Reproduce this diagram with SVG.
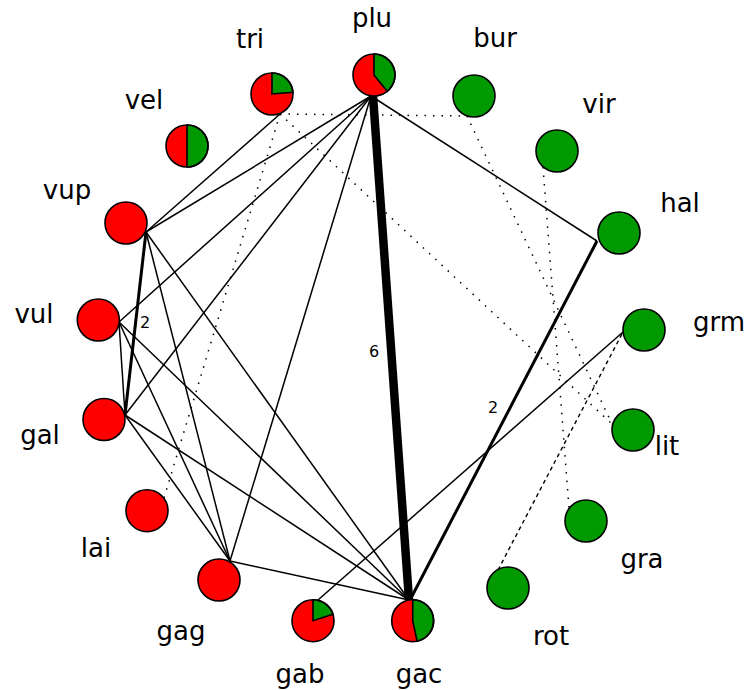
<svg xmlns="http://www.w3.org/2000/svg" width="749" height="690" viewBox="0 0 749 690">
<style>
.e{stroke:#000;stroke-width:1.5;fill:none}
.dot{stroke:#000;stroke-width:1.5;fill:none;stroke-dasharray:1.5 7}
.dash{stroke:#000;stroke-width:1.4;fill:none;stroke-dasharray:4 3.5}
.n{stroke:#000;stroke-width:1.6}
.r{fill:#ff0000}
.g{fill:#009900}
.lbl{font-family:"DejaVu Sans",sans-serif;font-size:26px;text-anchor:middle;fill:#000}
.el{font-family:"DejaVu Sans",sans-serif;font-size:16px;text-anchor:middle;fill:#000}
</style>
<rect width="749" height="690" fill="#fff"/>
<g id="edges">
<line class="e" x1="371" y1="96" x2="597" y2="241"/>
<line class="e" x1="371" y1="96" x2="146" y2="232"/>
<line class="e" x1="371" y1="96" x2="119" y2="322"/>
<line class="e" x1="371" y1="96" x2="125" y2="415"/>
<line class="e" x1="371" y1="96" x2="230" y2="561"/>
<line class="e" x1="280" y1="114" x2="146" y2="232"/>
<line class="e" x1="146" y1="232" x2="230" y2="561"/>
<line class="e" x1="146" y1="232" x2="409" y2="600"/>
<line class="e" x1="119" y1="322" x2="125" y2="415"/>
<line class="e" x1="119" y1="322" x2="230" y2="561"/>
<line class="e" x1="119" y1="322" x2="409" y2="600"/>
<line class="e" x1="125" y1="415" x2="230" y2="561"/>
<line class="e" x1="125" y1="415" x2="409" y2="600"/>
<line class="e" x1="230" y1="561" x2="409" y2="600"/>
<line class="e" x1="318" y1="600" x2="623" y2="332"/>
<line stroke="#000" stroke-width="8.5" x1="373" y1="96" x2="409" y2="600"/>
<line stroke="#000" stroke-width="3" x1="597" y1="241" x2="410" y2="600"/>
<line stroke="#000" stroke-width="3" x1="146" y1="232" x2="125" y2="415"/>
<line class="dash" x1="498" y1="570" x2="623" y2="332"/>
<line class="dot" x1="280" y1="114" x2="467" y2="116"/>
<line class="dot" x1="280" y1="114" x2="612" y2="424"/>
<line class="dot" x1="280" y1="114" x2="164" y2="498"/>
<line class="dot" x1="467" y1="116" x2="612" y2="424"/>
<line class="dot" x1="543" y1="167" x2="569" y2="508"/>
<text class="el" x="374" y="357">6</text>
<text class="el" x="493" y="413">2</text>
<text class="el" x="145" y="328">2</text>
</g>
<g id="plu"><circle class="r" cx="374" cy="75" r="21"/><path class="g n" d="M374,75 L374,54 A21,21 0 0,1 387.2,91.3 Z"/><circle class="n" cx="374" cy="75" r="21" fill="none"/><text class="lbl" x="372" y="27">plu</text></g>
<g id="bur"><circle class="g n" cx="474" cy="96" r="21"/><text class="lbl" x="495" y="47">bur</text></g>
<g id="vir"><circle class="g n" cx="557" cy="151" r="21"/><text class="lbl" x="599" y="113">vir</text></g>
<g id="hal"><circle class="g n" cx="619" cy="233" r="21"/><text class="lbl" x="680" y="212">hal</text></g>
<g id="grm"><circle class="g n" cx="644" cy="330" r="21"/><text class="lbl" x="719" y="331">grm</text></g>
<g id="lit"><circle class="g n" cx="633" cy="430" r="21"/><text class="lbl" x="667" y="455">lit</text></g>
<g id="gra"><circle class="g n" cx="586" cy="521" r="21"/><text class="lbl" x="642" y="568">gra</text></g>
<g id="rot"><circle class="g n" cx="508" cy="588" r="21"/><text class="lbl" x="551" y="645">rot</text></g>
<g id="gac"><circle class="r" cx="412.7" cy="620.7" r="21"/><path class="g n" d="M412.7,620.7 L412.7,599.7 A21,21 0 0,1 417.1,641.2 Z"/><circle class="n" cx="412.7" cy="620.7" r="21" fill="none"/><text class="lbl" x="419" y="683">gac</text></g>
<g id="gab"><circle class="r" cx="313" cy="620.7" r="21"/><path class="g n" d="M313,620.7 L313,599.7 A21,21 0 0,1 333,614.2 Z"/><circle class="n" cx="313" cy="620.7" r="21" fill="none"/><text class="lbl" x="300" y="683">gab</text></g>
<g id="gag"><circle class="r n" cx="219" cy="580" r="21"/><text class="lbl" x="181" y="640">gag</text></g>
<g id="lai"><circle class="r n" cx="147" cy="510.7" r="21"/><text class="lbl" x="96" y="557">lai</text></g>
<g id="gal"><circle class="r n" cx="104" cy="419.5" r="21"/><text class="lbl" x="40" y="444">gal</text></g>
<g id="vul"><circle class="r n" cx="98.3" cy="320" r="21"/><text class="lbl" x="34" y="323">vul</text></g>
<g id="vup"><circle class="r n" cx="126" cy="223" r="21"/><text class="lbl" x="67" y="199">vup</text></g>
<g id="vel"><circle class="r" cx="187" cy="146" r="21"/><path class="g n" d="M187,125 A21,21 0 0,1 187,167 Z"/><circle class="n" cx="187" cy="146" r="21" fill="none"/><text class="lbl" x="144" y="109">vel</text></g>
<g id="tri"><circle class="r" cx="272" cy="94" r="21"/><path class="g n" d="M272,94 L272,73 A21,21 0 0,1 292.9,92.2 Z"/><circle class="n" cx="272" cy="94" r="21" fill="none"/><text class="lbl" x="250" y="48">tri</text></g>
</svg>
